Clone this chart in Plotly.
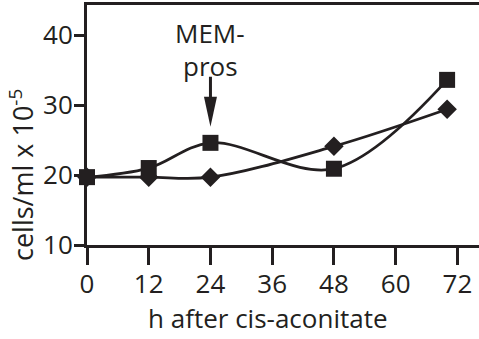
import plotly.graph_objects as go

hours = [0, 12, 24, 48, 70]
squares = [19.7, 21.0, 24.6, 20.9, 33.6]
diamonds = [19.7, 19.7, 19.7, 24.1, 29.4]
x_ticks = [0, 12, 24, 36, 48, 60, 72]
y_ticks = [10, 20, 30, 40]
arrow_x = 24
arrow_tip = 26.9

INK = "#231f20"
FONT = "Open Sans"

fig = go.Figure()
fig.add_trace(go.Scatter(
    x=hours, y=diamonds, mode="lines+markers",
    line=dict(color=INK, width=2.8, shape="spline", smoothing=1.0),
    marker=dict(symbol="diamond", size=15, color=INK),
    cliponaxis=False, showlegend=False))
fig.add_trace(go.Scatter(
    x=hours, y=squares, mode="lines+markers",
    line=dict(color=INK, width=2.8, shape="spline", smoothing=1.0),
    marker=dict(symbol="square", size=16, color=INK),
    cliponaxis=False, showlegend=False))

# arrow: shaft + long narrow head, sized in pixels, anchored at data point
fig.add_shape(type="path", xref="x", yref="y",
              xsizemode="pixel", ysizemode="pixel",
              xanchor=arrow_x, yanchor=arrow_tip,
              path="M-6.5,30 L6.5,30 L0,0 Z",
              fillcolor=INK, line=dict(color=INK, width=0))
fig.add_shape(type="line", xref="x", yref="y",
              xsizemode="pixel", ysizemode="pixel",
              xanchor=arrow_x, yanchor=arrow_tip,
              x0=0, x1=0, y0=28, y1=50,
              line=dict(color=INK, width=3))

fig.add_annotation(x=arrow_x, y=1 - 28 / 240, xref="x", yref="paper",
                   text="MEM-", showarrow=False, yanchor="middle",
                   font=dict(family=FONT, size=26, color=INK))
fig.add_annotation(x=arrow_x, y=1 - 61 / 240, xref="x", yref="paper",
                   text="pros", showarrow=False, yanchor="middle",
                   font=dict(family=FONT, size=26, color=INK))

fig.add_annotation(x=(22 - 87) / 392, y=(245 - 175) / 240,
                   xref="paper", yref="paper", textangle=-90,
                   text="cells/ml x 10<sup>-5</sup>", showarrow=False,
                   xanchor="center", yanchor="middle",
                   font=dict(family=FONT, size=27, color=INK))
fig.add_annotation(x=(268 - 87) / 392, y=(245 - 318) / 240,
                   xref="paper", yref="paper",
                   text="h after cis-aconitate", showarrow=False,
                   xanchor="center", yanchor="middle",
                   font=dict(family=FONT, size=26, color=INK))

fig.update_xaxes(
    range=[0, 76.2], tickvals=x_ticks, ticktext=[str(v) for v in x_ticks],
    showline=True, mirror=True, linecolor=INK, linewidth=3,
    ticks="outside", ticklen=17, tickwidth=3, tickcolor=INK,
    ticklabelstandoff=-3,
    showgrid=False, zeroline=False,
    tickfont=dict(family=FONT, size=26, color=INK))
fig.update_yaxes(
    range=[10, 44.3], tickvals=y_ticks, ticktext=[str(v) for v in y_ticks],
    showline=True, mirror=False, linecolor=INK, linewidth=3,
    ticks="outside", ticklen=10, tickwidth=3, tickcolor=INK,
    ticklabelstandoff=-4,
    showgrid=False, zeroline=False,
    tickfont=dict(family=FONT, size=26, color=INK))

fig.update_layout(
    width=479, height=339,
    margin=dict(l=87, r=0, t=5, b=94),
    paper_bgcolor="white", plot_bgcolor="white")

fig.write_html("out.html")
